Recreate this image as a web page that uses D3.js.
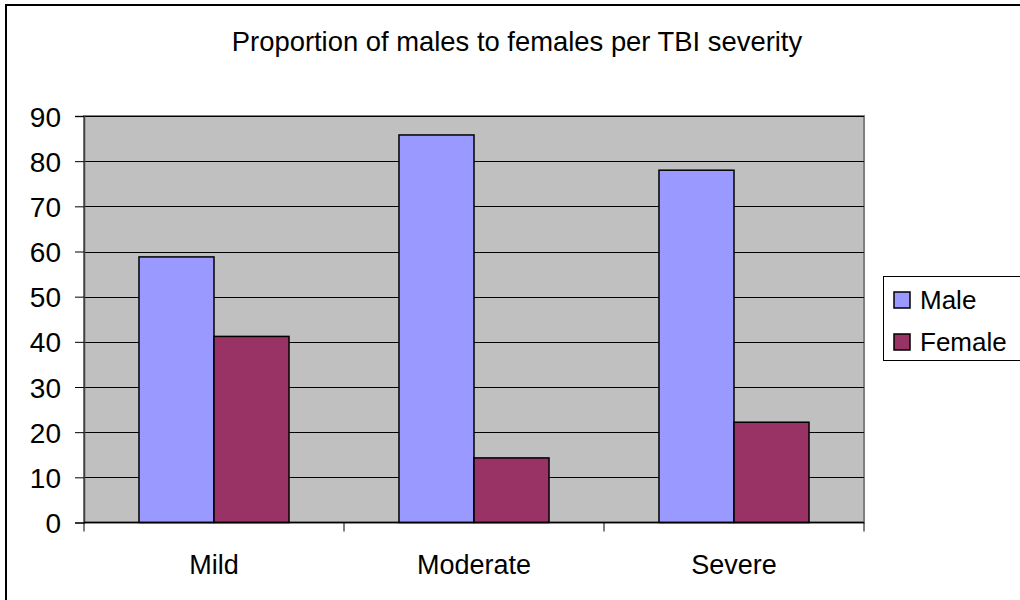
<!DOCTYPE html>
<html><head><meta charset="utf-8">
<script src="https://cdn.jsdelivr.net/npm/d3@7"></script>
<style>body{margin:0;background:#fff}svg{display:block;font-family:"Liberation Sans",Arial,sans-serif}</style>
</head><body>
<script>
const categories = ["Mild", "Moderate", "Severe"];
const seriesNames = ["Male", "Female"];
const maleValues = [58.8, 85.8, 78.0];
const femaleValues = [41.2, 14.3, 22.2];
const yTicks = [0, 10, 20, 30, 40, 50, 60, 70, 80, 90];
const colors = ["#9999FF", "#993366"];
const title = "Proportion of males to females per TBI severity";

const W = 1020, H = 600;
const svg = d3.select("body").append("svg").attr("width", W).attr("height", H);

// outer border
svg.append("rect").attr("x", 6).attr("y", 5).attr("width", 1030).attr("height", 700)
  .attr("fill", "#fff").attr("stroke", "#000").attr("stroke-width", 2);

const plot = {l: 84, r: 864, t: 116, b: 522.5};
const x0 = d3.scaleBand().domain(categories).range([plot.l, plot.r]).paddingInner(0).paddingOuter(0);
const x1 = d3.scaleBand().domain(seriesNames).range([0, x0.bandwidth()]).paddingInner(0).paddingOuter(0.733);
const y = d3.scaleLinear().domain([0, 90]).range([plot.b, plot.t]);

// plot bg
svg.append("rect").attr("x", plot.l).attr("y", plot.t).attr("width", plot.r - plot.l).attr("height", plot.b - plot.t)
  .attr("fill", "#C0C0C0").attr("stroke", "#808080").attr("stroke-width", 2);

// gridlines
svg.append("g").selectAll("line").data(yTicks.filter(d => d > 0)).join("line")
  .attr("x1", plot.l).attr("x2", plot.r).attr("y1", d => Math.round(y(d)) + 0.5).attr("y2", d => Math.round(y(d)) + 0.5)
  .attr("stroke", "#000").attr("stroke-width", 1);

// bars
const data = categories.map((c, i) => ({c, vals: [{s: "Male", v: maleValues[i]}, {s: "Female", v: femaleValues[i]}]}));
const g = svg.append("g").selectAll("g").data(data).join("g").attr("transform", d => `translate(${x0(d.c)},0)`);
g.selectAll("rect").data(d => d.vals).join("rect")
  .attr("x", d => x1(d.s)).attr("width", x1.bandwidth())
  .attr("y", d => y(d.v)).attr("height", d => y(0) - y(d.v))
  .attr("fill", (d, i) => colors[i]).attr("stroke", "#000").attr("stroke-width", 1.5);

// y axis
const yAxis = d3.axisLeft(y).tickValues(yTicks).tickSize(9).tickPadding(14);
const ya = svg.append("g").attr("transform", `translate(${plot.l},0)`).call(yAxis);
ya.select(".domain").attr("stroke", "#404040").attr("stroke-width", 1.5);
ya.selectAll(".tick line").attr("stroke", "#000");
ya.selectAll("text").attr("font-size", 28).attr("fill", "#000").attr("font-family", "Liberation Sans, Arial, sans-serif").attr("dy", "0.36em");

// x axis
const xa = svg.append("g").attr("transform", `translate(0,${plot.b})`);
xa.append("line").attr("x1", plot.l).attr("x2", plot.r).attr("y1", 0).attr("y2", 0).attr("stroke", "#000").attr("stroke-width", 1.5);
const bounds = categories.map(c => x0(c)).concat([plot.r]);
xa.selectAll("line.t").data(bounds).join("line").attr("class", "t")
  .attr("x1", d => d).attr("x2", d => d).attr("y1", 0).attr("y2", 9).attr("stroke", "#000");
xa.selectAll("text").data(categories).join("text")
  .attr("x", d => x0(d) + x0.bandwidth() / 2).attr("y", 51)
  .attr("text-anchor", "middle").attr("font-size", 27).text(d => d);

// title
svg.append("text").attr("x", 517).attr("y", 51).attr("text-anchor", "middle").attr("font-size", 27.4).text(title);

// legend
const lg = svg.append("g");
lg.append("rect").attr("x", 883.5).attr("y", 276.5).attr("width", 200).attr("height", 84)
  .attr("fill", "#fff").attr("stroke", "#000").attr("stroke-width", 1);
seriesNames.forEach((s, i) => {
  lg.append("rect").attr("x", 894).attr("y", 292 + i * 42).attr("width", 16).attr("height", 16)
    .attr("fill", colors[i]).attr("stroke", "#000").attr("stroke-width", 1.5);
  lg.append("text").attr("x", 920).attr("y", 309 + i * 42).attr("font-size", 26).text(s);
});
</script>
</body></html>
